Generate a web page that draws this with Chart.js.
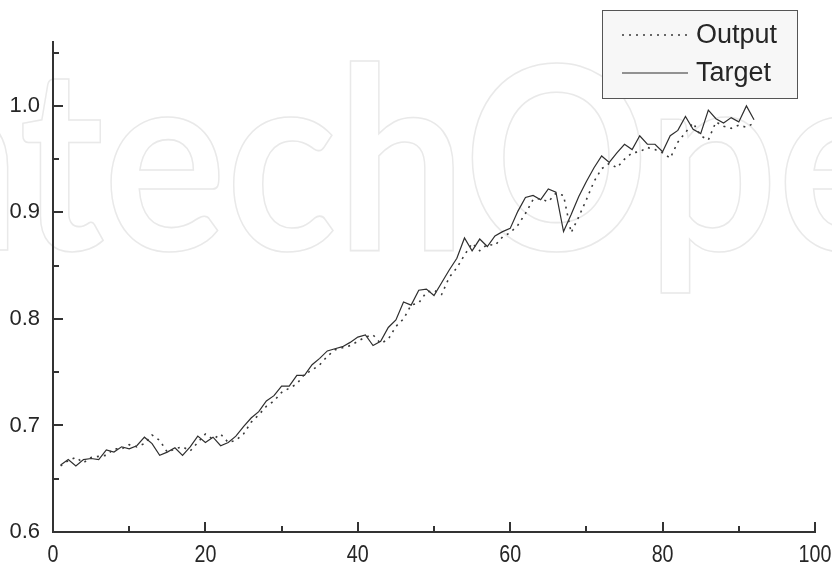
<!DOCTYPE html>
<html>
<head>
<meta charset="utf-8">
<style>
  html, body { margin: 0; padding: 0; background: #fff; }
  canvas { display: block; }
</style>
<script src="https://cdn.jsdelivr.net/npm/chart.js@4.4.1/dist/chart.umd.min.js"></script>
</head>
<body>
<canvas id="chart" width="832" height="568"></canvas>
<script>
// Measured target values, one per time step
const target = [
  0.663, 0.668, 0.662, 0.668, 0.669, 0.668, 0.677, 0.675, 0.680, 0.678,
  0.681, 0.689, 0.683, 0.672, 0.675, 0.679, 0.672, 0.680, 0.690, 0.684,
  0.689, 0.681, 0.684, 0.690, 0.699, 0.707, 0.713, 0.723, 0.728, 0.737,
  0.737, 0.747, 0.747, 0.757, 0.763, 0.770, 0.772, 0.774, 0.778, 0.783,
  0.785, 0.775, 0.779, 0.792, 0.799, 0.816, 0.813, 0.827, 0.828, 0.822,
  0.834, 0.846, 0.857, 0.876, 0.864, 0.875, 0.868, 0.878, 0.882, 0.885,
  0.901, 0.914, 0.916, 0.912, 0.922, 0.919, 0.882, 0.898, 0.915, 0.929,
  0.942, 0.953, 0.947, 0.956, 0.964, 0.959, 0.972, 0.964, 0.964, 0.957,
  0.972, 0.977, 0.990, 0.978, 0.974, 0.996, 0.988, 0.984, 0.989, 0.985,
  1.000, 0.987
];

// Network output for the same time steps
const output = [
  0.662, 0.667, 0.670, 0.665, 0.670, 0.671, 0.672, 0.678, 0.678, 0.682,
  0.680, 0.683, 0.691, 0.686, 0.675, 0.678, 0.680, 0.676, 0.684, 0.692,
  0.687, 0.692, 0.684, 0.686, 0.692, 0.703, 0.710, 0.718, 0.723, 0.731,
  0.735, 0.739, 0.748, 0.752, 0.757, 0.765, 0.771, 0.773, 0.775, 0.779,
  0.783, 0.785, 0.777, 0.781, 0.793, 0.800, 0.813, 0.815, 0.825, 0.827,
  0.823, 0.839, 0.848, 0.860, 0.871, 0.864, 0.870, 0.869, 0.877, 0.881,
  0.888, 0.899, 0.912, 0.913, 0.910, 0.918, 0.916, 0.881, 0.896, 0.912,
  0.929, 0.941, 0.946, 0.942, 0.950, 0.956, 0.957, 0.961, 0.959, 0.956,
  0.951, 0.966, 0.975, 0.984, 0.972, 0.968, 0.985, 0.981, 0.979, 0.982,
  0.980, 0.984
];

const seriesNames = ['Output', 'Target'];
const xTicks = [0, 20, 40, 60, 80, 100];
const xMinorTicks = [10, 30, 50, 70, 90];
const yTicks = [0.6, 0.7, 0.8, 0.9, 1.0];
const yMinorTicks = [0.65, 0.75, 0.85, 0.95, 1.05];

const steps = target.map((_, i) => i + 1);
const toPoints = vals => vals.map((v, i) => ({ x: steps[i], y: v }));

const ink = '#333333';
const textInk = '#262626';
const outputDash = [2, 5];
const labelFont = '"Liberation Sans", Arial, sans-serif';

// Faint outlined publisher mark behind the plot
const backdrop = {
  id: 'backdrop',
  beforeDraw(chart) {
    const ctx = chart.ctx;
    const sx = 0.9;
    ctx.save();
    ctx.fillStyle = '#ffffff';
    ctx.fillRect(0, 0, chart.width, chart.height);
    ctx.scale(sx, 1);
    ctx.font = 'bold 255px Lato, "Open Sans", sans-serif';
    ctx.textBaseline = 'alphabetic';
    const lead = ctx.measureText('Intech').width;
    ctx.strokeStyle = '#e9e9e9';
    ctx.lineWidth = 1.6;
    ctx.strokeText('IntechOpen', 466 / sx - lead, 250);
    ctx.restore();
  }
};

// Tick marks pointing into the plot area, plus the condensed x labels
const innerTicks = {
  id: 'innerTicks',
  afterDraw(chart) {
    const { ctx, chartArea, scales } = chart;
    const xs = scales.x, ys = scales.y;
    ctx.save();
    ctx.strokeStyle = ink;
    ctx.lineWidth = 2;
    ctx.beginPath();
    xTicks.forEach(v => {
      const px = Math.round(xs.getPixelForValue(v));
      ctx.moveTo(px, chartArea.bottom);
      ctx.lineTo(px, chartArea.bottom - 10);
    });
    xMinorTicks.forEach(v => {
      const px = Math.round(xs.getPixelForValue(v));
      ctx.moveTo(px, chartArea.bottom);
      ctx.lineTo(px, chartArea.bottom - 6);
    });
    yTicks.forEach(v => {
      const py = Math.round(ys.getPixelForValue(v));
      ctx.moveTo(chartArea.left, py);
      ctx.lineTo(chartArea.left + 10, py);
    });
    yMinorTicks.forEach(v => {
      const py = Math.round(ys.getPixelForValue(v));
      ctx.moveTo(chartArea.left, py);
      ctx.lineTo(chartArea.left + 6, py);
    });
    ctx.stroke();

    ctx.fillStyle = textInk;
    ctx.font = '24px ' + labelFont;
    ctx.textAlign = 'center';
    ctx.textBaseline = 'alphabetic';
    xTicks.forEach(v => {
      const px = xs.getPixelForValue(v);
      ctx.save();
      ctx.translate(px, chartArea.bottom + 30);
      ctx.scale(0.82, 1);
      ctx.fillText(String(v), 0, 0);
      ctx.restore();
    });
    ctx.restore();
  }
};

// Boxed legend in the upper right corner
const boxLegend = {
  id: 'boxLegend',
  afterDraw(chart) {
    const ctx = chart.ctx;
    const bx = 602.5, by = 10.5, bw = 195, bh = 88;
    ctx.save();
    ctx.fillStyle = '#f7f7f7';
    ctx.fillRect(bx, by, bw, bh);
    ctx.strokeStyle = '#555555';
    ctx.lineWidth = 1;
    ctx.strokeRect(bx, by, bw, bh);
    const rows = [
      { y: 35, dash: outputDash, width: 1.6 },
      { y: 73, dash: [], width: 1.2 }
    ];
    rows.forEach((r, i) => {
      const ds = chart.data.datasets[i];
      ctx.beginPath();
      ctx.setLineDash(r.dash);
      ctx.lineWidth = r.width;
      ctx.strokeStyle = ds.borderColor;
      ctx.moveTo(622, r.y);
      ctx.lineTo(688, r.y);
      ctx.stroke();
      ctx.setLineDash([]);
      ctx.fillStyle = textInk;
      ctx.font = '27px ' + labelFont;
      ctx.textBaseline = 'middle';
      ctx.textAlign = 'left';
      ctx.fillText(ds.label, 696, r.y + 1);
    });
    ctx.restore();
  }
};

new Chart(document.getElementById('chart'), {
  type: 'line',
  data: {
    datasets: [
      {
        label: seriesNames[0],
        data: toPoints(output),
        borderColor: '#3a3a3a',
        borderWidth: 1.6,
        borderDash: outputDash,
        pointRadius: 0,
        tension: 0,
        fill: false
      },
      {
        label: seriesNames[1],
        data: toPoints(target),
        borderColor: '#2e2e2e',
        borderWidth: 1.2,
        pointRadius: 0,
        tension: 0,
        fill: false
      }
    ]
  },
  options: {
    responsive: false,
    animation: false,
    events: [],
    layout: { padding: { top: 42, right: 17, left: 0, bottom: 0 } },
    plugins: {
      legend: { display: false },
      tooltip: { enabled: false }
    },
    scales: {
      x: {
        type: 'linear',
        min: 0,
        max: 100,
        afterBuildTicks: s => { s.ticks = xTicks.map(value => ({ value })); },
        afterFit: s => { s.height = 36; },
        grid: { display: false, drawTicks: false },
        border: { display: true, color: ink, width: 2 },
        ticks: { display: false }
      },
      y: {
        type: 'linear',
        min: 0.6,
        max: 1.06,
        afterBuildTicks: s => { s.ticks = yTicks.map(value => ({ value })); },
        afterFit: s => { s.width = 53; },
        grid: { display: false, drawTicks: false },
        border: { display: true, color: ink, width: 2 },
        ticks: {
          padding: 13,
          color: textInk,
          callback: v => v.toFixed(1),
          font: { family: labelFont, size: 22 }
        }
      }
    }
  },
  plugins: [backdrop, innerTicks, boxLegend]
});
</script>
</body>
</html>
